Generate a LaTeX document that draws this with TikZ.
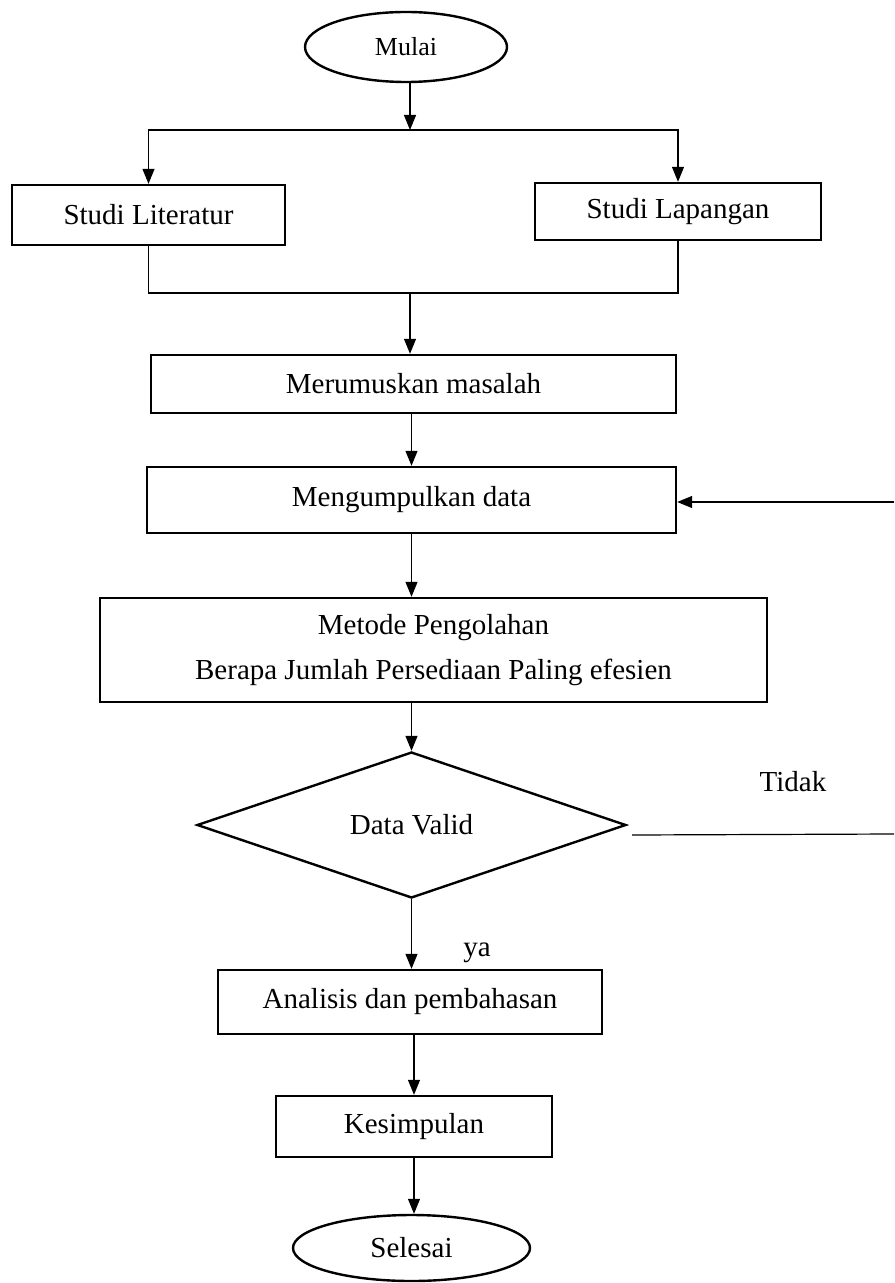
\documentclass[tikz,border=0pt]{standalone}
\usepackage{fontspec}
\setmainfont{Liberation Serif}
\usetikzlibrary{arrows.meta,
  shapes,
  positioning
}
\def\boxline{1.2pt}
\def\flowline{0.6pt}

\tikzset{
  process/.style={draw, rectangle, line width=\boxline, inner sep=0, align=center,
    font=\fontsize{14.5pt}{22.5pt}\selectfont},
  terminal/.style={draw, ellipse, line width=\boxline, inner sep=0,
    font=\fontsize{14.5pt}{17pt}\selectfont},
  decision/.style={draw, diamond, line width=\boxline, inner sep=0,
    font=\fontsize{14.5pt}{17pt}\selectfont},
  flow/.style={->, >={Triangle[width=6pt,length=7.5pt]}, line width=\flowline},
  plainline/.style={line width=\flowline},
  answer/.style={font=\fontsize{14.5pt}{17pt}\selectfont}
}

\begin{document}
\begin{tikzpicture}[x=0.5pt, y=-0.5pt]
  \useasboundingbox (0,0) rectangle (894,1283);

  % start
  \node[terminal, minimum width=101pt, minimum height=35pt, font=\fontsize{13pt}{15pt}\selectfont] (mulai) at (406,47) {Mulai};
  \coordinate (split) at (410,130);

  % two studies
  \node[process, minimum width=136.5pt, minimum height=30pt] (literatur) at (148.5,215) {Studi Literatur};
  \node[process, minimum width=143pt, minimum height=28.5pt] (lapangan) at (678,211.5) {Studi Lapangan};
  \coordinate (merge) at (410,293);

  % main column
  \node[process, minimum width=262.5pt, minimum height=29pt] (rumus) at (413.5,384) {Merumuskan masalah};
  \node[process, minimum width=264.5pt, minimum height=33pt] (kumpul) at (411.5,500) {Mengumpulkan data};
  \node[process, minimum width=333.5pt, minimum height=52pt] (olah) at (433.5,650) {Metode Pengolahan\\Berapa Jumlah Persediaan Paling efesien};
  \node[decision, minimum width=214.5pt, minimum height=73pt] (valid) at (411.5,825) {Data Valid};
  \node[process, minimum width=192pt, minimum height=32pt] (analisis) at (410,1002) {Analisis dan pembahasan};
  \node[process, minimum width=138pt, minimum height=30.5pt] (simpul) at (414,1126.5) {Kesimpulan};
  \node[terminal, minimum width=118.5pt, minimum height=33pt] (selesai) at (411.5,1248) {Selesai};

  % answers
  \node[answer] (tidak) at (793,782) {Tidak};
  \node[answer] (ya) at (477,953) {ya};

  % feedback ends
  \coordinate (backlow) at (894,834);
  \coordinate (backhigh) at (894,502);

  \draw[flow] (split |- mulai.south) -- (split);
  \draw[flow] (split) -| (literatur.north);
  \draw[flow] (split) -| (lapangan.north);

  \draw[plainline] (literatur.south) |- (merge);
  \draw[plainline] (lapangan.south) |- (merge);
  \draw[flow] (merge) -- (merge |- rumus.north);

  \draw[flow] (kumpul.north |- rumus.south) -- (kumpul.north);
  \draw[flow] (kumpul) -- (kumpul.south |- olah.north);
  \draw[flow] (valid.north |- olah.south) -- (valid.north);
  \draw[flow] (valid) -- (valid.south |- analisis.north);
  \draw[flow] (simpul.north |- analisis.south) -- (simpul.north);
  \draw[flow] (simpul) -- (simpul.south |- selesai.north);

  \draw[plainline] ([xshift=2.5pt, yshift=-5pt]valid.east) -- (backlow);
  \draw[flow] (backhigh) -- (backhigh -| kumpul.east);
\end{tikzpicture}
\end{document}
